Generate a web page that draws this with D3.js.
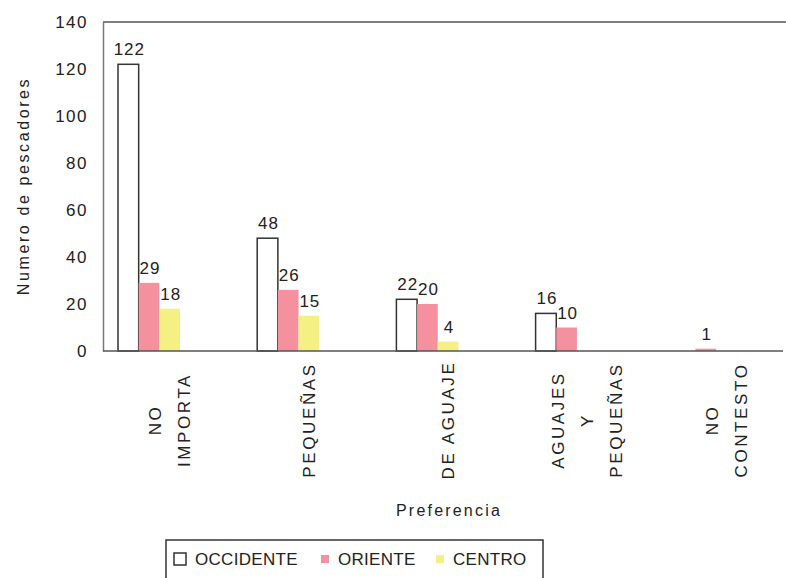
<!DOCTYPE html>
<meta charset="utf-8">
<svg width="786" height="578"></svg>
<script src="https://d3js.org/d3.v7.min.js"></script>
<style>
  body {
    margin: 0;
    background: #fff;
  }
  text {
    font-family: "Liberation Sans", Arial, sans-serif;
    fill: #222;
  }
</style>
<script>
// categories (x axis), split into the lines they are drawn on
var categories = ["NO IMPORTA", "PEQUEÑAS", "DE AGUAJE", "AGUAJES Y PEQUEÑAS", "NO CONTESTO"];
var categoryLines = [["NO", "IMPORTA"], ["PEQUEÑAS"], ["DE AGUAJE"], ["AGUAJES", "Y", "PEQUEÑAS"], ["NO", "CONTESTO"]];

var series = ["OCCIDENTE", "ORIENTE", "CENTRO"];
var occidente = [122, 48, 22, 16, 0];
var oriente = [29, 26, 20, 10, 1];
var centro = [18, 15, 4, 0, 0];

var yTicks = [0, 20, 40, 60, 80, 100, 120, 140];

var svg = d3.select("svg"),
    margin = {top: 22, right: 3, bottom: 227, left: 103},
    width = +svg.attr("width") - margin.left - margin.right,
    height = +svg.attr("height") - margin.top - margin.bottom;

var fill = {OCCIDENTE: "#fff", ORIENTE: "#f5909f", CENTRO: "#f4f084"};

var rows = categories.map(function(c, i) {
  return {cat: c, lines: categoryLines[i], values: [
    {key: "OCCIDENTE", value: occidente[i]},
    {key: "ORIENTE", value: oriente[i]},
    {key: "CENTRO", value: centro[i]}
  ]};
});

// each category gets ~139px; bars sit in the left part of the band
var x0 = d3.scaleBand()
    .domain(categories)
    .range([margin.left - 3, margin.left - 3 + 5 * 139.2]);

var x1 = d3.scaleBand()
    .domain(series)
    .range([18, 80]);

var y = d3.scaleLinear()
    .domain([0, 140])
    .range([margin.top + height, margin.top]);

// top frame line
svg.append("line")
    .attr("x1", margin.left).attr("x2", 786)
    .attr("y1", margin.top).attr("y2", margin.top)
    .attr("stroke", "#555").attr("stroke-width", 1.5);

// y axis
var yAxis = svg.append("g")
    .attr("transform", "translate(" + margin.left + ",0)")
    .call(d3.axisLeft(y).tickValues(yTicks).tickSize(0).tickPadding(15));
yAxis.select(".domain").attr("stroke", "#777").attr("stroke-width", 1.5);
yAxis.selectAll("text")
    .style("font-size", "17px")
    .style("letter-spacing", "1.5px")
    .attr("fill", "#333");

// bars
var groups = svg.append("g").selectAll("g")
    .data(rows)
  .enter().append("g")
    .attr("transform", function(d) { return "translate(" + x0(d.cat) + ",0)"; });

groups.selectAll("rect")
    .data(function(d) { return d.values.filter(function(v) { return v.value > 0; }); })
  .enter().append("rect")
    .attr("x", function(d) { return x1(d.key); })
    .attr("width", x1.bandwidth())
    .attr("y", function(d) { return y(d.value); })
    .attr("height", function(d) { return y(0) - y(d.value); })
    .attr("fill", function(d) { return fill[d.key]; })
    .attr("stroke", function(d) { return d.key == "OCCIDENTE" ? "#333" : "none"; })
    .attr("stroke-width", 1.5);

groups.selectAll("text.val")
    .data(function(d) { return d.values.filter(function(v) { return v.value > 0; }); })
  .enter().append("text")
    .attr("class", "val")
    .attr("x", function(d) { return x1(d.key) + x1.bandwidth() / 2 + 1; })
    .attr("y", function(d) { return y(d.value) - 9; })
    .attr("text-anchor", "middle")
    .style("font-size", "17px")
    .style("letter-spacing", "1px")
    .text(function(d) { return d.value; });

// baseline
svg.append("line")
    .attr("x1", margin.left).attr("x2", 783)
    .attr("y1", y(0)).attr("y2", y(0))
    .attr("stroke", "#555").attr("stroke-width", 1.5);

// category labels, rotated
var labelY = 420;
rows.forEach(function(d) {
  var cx = x0(d.cat) + x0.bandwidth() / 2;
  var n = d.lines.length;
  d.lines.forEach(function(line, i) {
    var lx = cx + (i - (n - 1) / 2) * 29 + 6;
    svg.append("text")
        .attr("transform", "translate(" + lx + "," + labelY + ") rotate(-90)")
        .attr("text-anchor", "middle")
        .style("font-size", "17px")
        .style("letter-spacing", "2.6px")
        .text(line);
  });
});

// axis titles
svg.append("text")
    .attr("transform", "translate(29,186) rotate(-90)")
    .attr("text-anchor", "middle")
    .style("font-size", "16px")
    .style("letter-spacing", "2.6px")
    .text("Numero de pescadores");

svg.append("text")
    .attr("x", 449)
    .attr("y", 516)
    .attr("text-anchor", "middle")
    .style("font-size", "16px")
    .style("letter-spacing", "2.2px")
    .text("Preferencia");

// legend
var legend = svg.append("g");
legend.append("rect")
    .attr("x", 166).attr("y", 540)
    .attr("width", 377).attr("height", 60)
    .attr("fill", "none")
    .attr("stroke", "#333").attr("stroke-width", 1.5);

var legendX = [174, 321, 436];
series.forEach(function(s, i) {
  var size = s == "OCCIDENTE" ? 12 : 8;
  legend.append("rect")
      .attr("x", legendX[i]).attr("y", 559 - size / 2)
      .attr("width", size).attr("height", size)
      .attr("fill", fill[s])
      .attr("stroke", s == "OCCIDENTE" ? "#333" : "none")
      .attr("stroke-width", 1.5);
  legend.append("text")
      .attr("x", legendX[i] + (s == "OCCIDENTE" ? 21 : 17))
      .attr("y", 565)
      .style("font-size", "17px")
      .style("letter-spacing", "0.3px")
      .text(s);
});
</script>
